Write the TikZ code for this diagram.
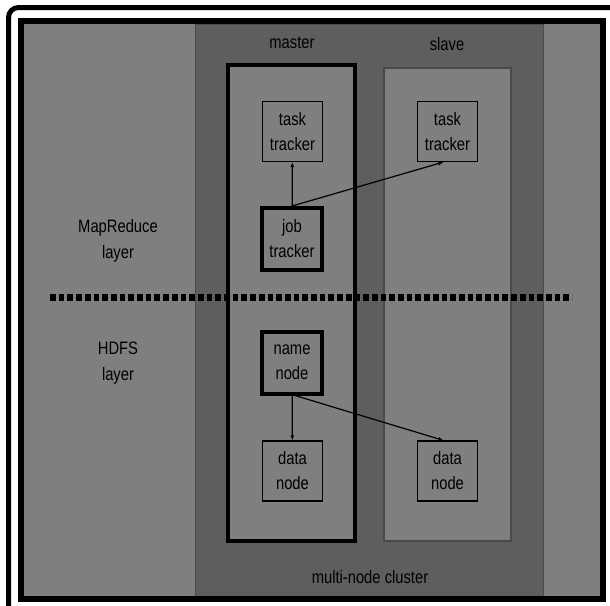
\documentclass[tikz,border=0pt]{standalone}
\usepackage{fontspec}
\setmainfont[FakeStretch=0.82]{Liberation Sans}
\usetikzlibrary{arrows.meta, positioning}
\definecolor{panelgray}{HTML}{7F7F7F}
\definecolor{clustergray}{HTML}{5E5E5E}
\definecolor{edgegray}{HTML}{4A4A4A}

\begin{document}
\begin{tikzpicture}[
  x=1pt, y=-1pt,
  box/.style={draw, fill=panelgray, align=center, inner sep=0pt, minimum width=60pt,
    minimum height=60pt, line width=1.2pt, font=\fontsize{18}{25}\selectfont},
  heavy/.style={box, line width=4pt, minimum height=62pt},
  arrow/.style={-{Latex[length=5pt, width=4pt]}, line width=1.2pt},
  label/.style={align=center, font=\fontsize{18}{26}\selectfont},
  layerline/.style={line width=7pt, dash pattern=on 5.7pt off 3pt}
]
\useasboundingbox (0,0) rectangle (610,605);
\clip (0,0) rectangle (610,605);
\fill[white] (0,0) rectangle (610,605);
\draw[line width=5pt, rounded corners=10pt] (8.5,7.5) rectangle (640,640);

% panel and cluster
\fill[panelgray] (24,24) rectangle (600,596);
\draw[fill=clustergray, draw=edgegray, line width=1pt] (195,24) rectangle (543,596);
\draw[line width=6pt] (21,21) rectangle (603,599);

% machines
\draw[fill=panelgray, line width=4pt] (228,65) rectangle (355,541);
\draw[fill=panelgray, draw=edgegray, line width=1.2pt] (384,68) rectangle (511,541);
\node[label] (master) at (292,43) {master};
\node[label] (slave) at (447,44) {slave};

\node[box] (tt1) at (292.5,131.5) {task\\tracker};
\node[box] (tt2) at (447.5,131.5) {task\\tracker};
\node[heavy] (job) at (292,239) {job\\tracker};
\node[heavy] (name) at (292,362.5) {name\\node};
\node[box] (dn1) at (292.5,471) {data\\node};
\node[box] (dn2) at (447.5,471) {data\\node};

\draw[arrow] (job) -- (tt1);
\draw[arrow] (job.north) -- ([xshift=-4pt]tt2.south);
\draw[arrow] (name) -- (dn1);
\draw[arrow] ([xshift=3pt]name.south) -- ([xshift=-4pt]dn2.north);

% layers
\draw[layerline] (50,297) -- (572,297);
\node[label] (mr) at (118,241) {MapReduce\\layer};
\node[label] (hdfs) at (118,363) {HDFS\\layer};
\node[label] (cluster) at (370,577) {multi-node cluster};
\end{tikzpicture}
\end{document}
